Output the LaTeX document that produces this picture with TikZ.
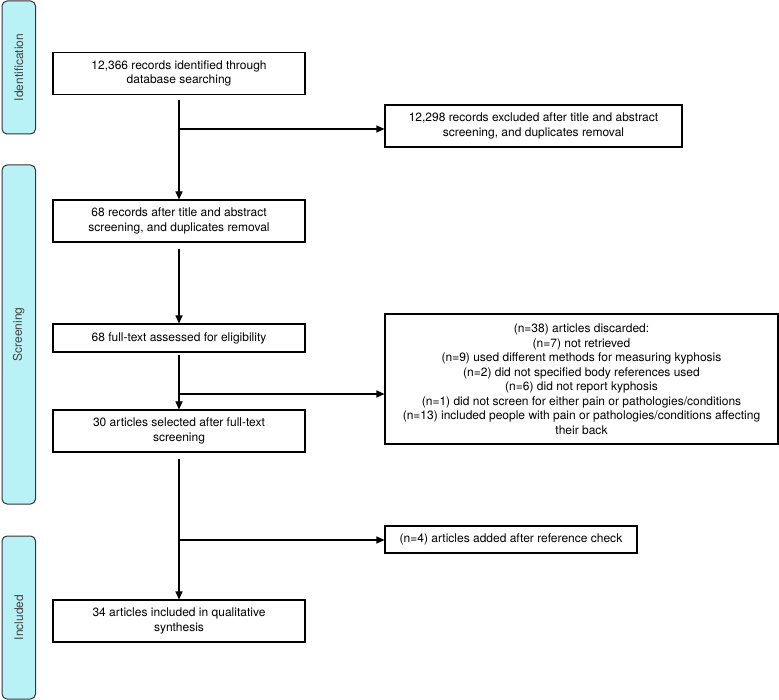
\documentclass[tikz,border=0pt]{standalone}
\usepackage{fontspec}
\setmainfont{TeX Gyre Heros}
\usetikzlibrary{positioning,arrows.meta}
\definecolor{phasefill}{HTML}{B8F1F6}
\definecolor{phasetext}{HTML}{444444}
\tikzset{
	box/.style={draw, line width=1.1pt, align=center, inner sep=0pt,
		font=\fontsize{12}{14.5}\selectfont, minimum width=252pt, minimum height=42pt},
	phase/.style={draw=black!80, fill=phasefill, rounded corners=5pt, line width=1pt,
		rotate=90, minimum height=33.5pt, inner sep=0pt, text=phasetext,
		font=\fontsize{12}{14.5}\selectfont},
	flow/.style={line width=1.1pt, -{Triangle[length=8pt,width=7pt]}},
}

\begin{document}
\begin{tikzpicture}[x=1pt,y=-1pt]
		\useasboundingbox (0,0) rectangle (779,700);
		\node (idph) [phase, minimum width=133pt] at (18.75,67.5)  {Identification};
		\node (scph) [phase, minimum width=339pt] at (18.75,334.5) {Screening};
		\node (inph) [phase, minimum width=163pt] at (18.75,617.5) {Included};
		\node (rec)  [box] at (179,73.5)  {12,366 records identified through\\database searching};
		\node (excl) [box, minimum width=297pt] at (533.5,126) {12,298 records excluded after title and abstract\\screening, and duplicates removal};
		\node (scr)  [box] at (179,221)   {68 records after title and abstract\\screening, and duplicates removal};
		\node (full) [box, minimum height=28pt] at (179,338) {68 full-text assessed for eligibility};
		\node (disc) [box, minimum width=393pt, minimum height=130pt] at (581.5,379)
			{(n=38) articles discarded:\\(n=7) not retrieved\\(n=9) used different methods for measuring kyphosis\\(n=2) did not specified body references used\\(n=6) did not report kyphosis\\(n=1) did not screen for either pain or pathologies/conditions\\(n=13) included people with pain or pathologies/conditions affecting\\their back};
		\node (sel)  [box] at (179,431)   {30 articles selected after full-text\\screening};
		\node (refc) [box, minimum height=27pt] at (511,539.5) {(n=4) articles added after reference check};
		\node (incl) [box] at (179,621)   {34 articles included in qualitative\\synthesis};
		\coordinate (j1) at (179,129);
		\coordinate (j2) at (179,394);
		\coordinate (j3) at (179,540);
		\draw [flow, shorten <=5pt] (rec)  -- (scr);
		\draw [flow, shorten <=6pt] (scr)  -- (full);
		\draw [flow, shorten <=2pt] (full) -- (sel);
		\draw [flow, shorten <=6pt] (sel)  -- (incl);
		\draw [flow] (j1) -- (j1 -| excl.west);
		\draw [flow] (j2) -- (j2 -| disc.west);
		\draw [flow] (j3) -- (j3 -| refc.west);
\end{tikzpicture}
\end{document}
